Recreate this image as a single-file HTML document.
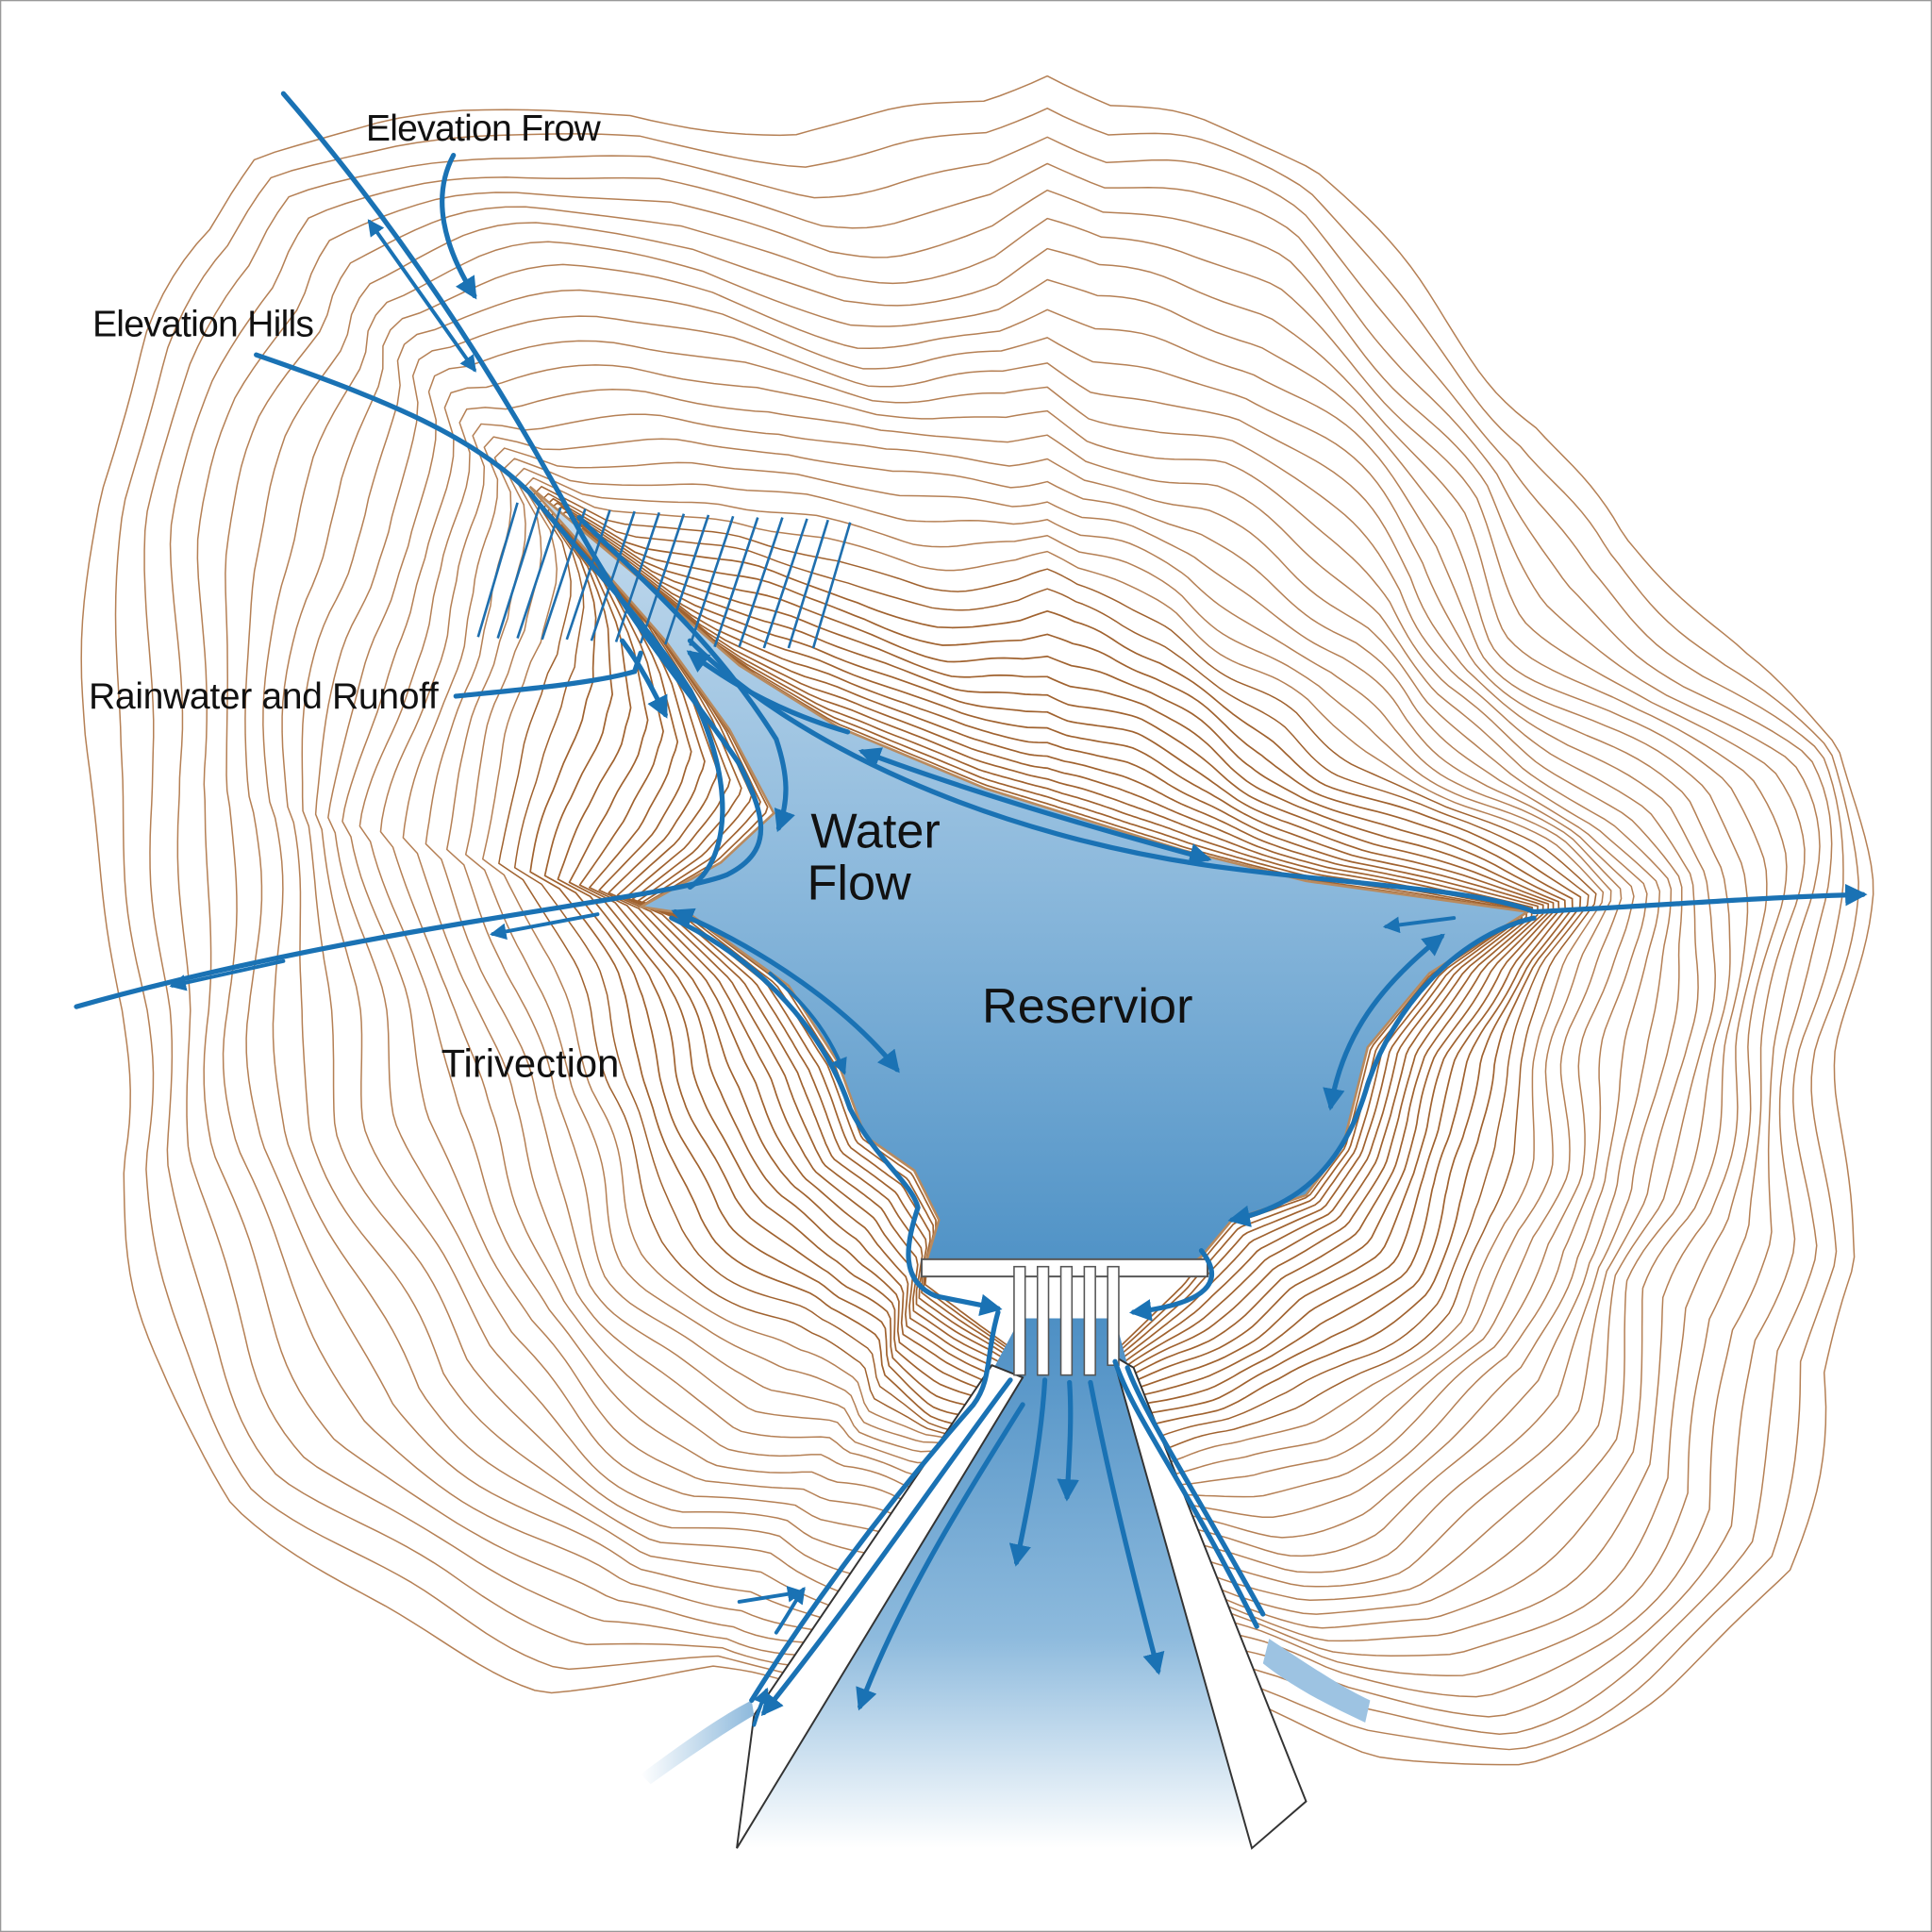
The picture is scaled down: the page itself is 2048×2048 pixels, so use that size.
<!DOCTYPE html>
<html><head><meta charset="utf-8">
<style>
html,body{margin:0;padding:0;background:#fff;}
svg{display:block;}
text{font-family:"Liberation Sans",sans-serif;fill:#111;}
</style></head>
<body>
<svg id="s" xmlns="http://www.w3.org/2000/svg" width="2048" height="2048" viewBox="0 0 1568 1568">
<defs>
<linearGradient id="res" x1="0" y1="0" x2="0" y2="1">
<stop offset="0" stop-color="#c4dbee"/><stop offset="0.5" stop-color="#8cb9dc"/><stop offset="1" stop-color="#4f92c6"/>
</linearGradient>
<linearGradient id="sp" x1="0" y1="0" x2="0" y2="1">
<stop offset="0" stop-color="#4d8fc4"/><stop offset="0.6" stop-color="#8dbadd"/><stop offset="1" stop-color="#ffffff"/>
</linearGradient>
<linearGradient id="st" x1="0" y1="0" x2="1" y2="0">
<stop offset="0" stop-color="#ffffff"/><stop offset="1" stop-color="#8db9dc"/>
</linearGradient>
<marker id="ah" viewBox="0 0 10 10" refX="8" refY="5" markerWidth="4.5" markerHeight="4.5" orient="auto-start-reverse">
<path d="M0,0 L10,5 L0,10 z" fill="#1a72b4"/>
</marker>
</defs>
<rect x="0" y="0" width="1568" height="1568" fill="#fff" stroke="#999" stroke-width="2"/>
<g id="contours" fill="none"></g>

<path id="resv" d="M430,395 L520,470 L600,540 L680,590 L800,640 L960,690 L1060,715 L1240,740 L1160,790 L1110,850 L1090,930 L1060,970 L1000,990 L975,1020 L960,1030 L750,1030 L762,990 L742,950 L702,922 L680,862 L640,800 L560,742 L520,736 L585,700 L628,660 L592,592 L540,520 L470,440 Z" fill="url(#res)" stroke="#b98a5e" stroke-width="2"/>

<path d="M828,1070 L905,1070 L1020,1500 L600,1500 Z" fill="url(#sp)"/>
<path d="M805,1108 L830,1118 L598,1500 L612,1392 Z" fill="#fff" stroke="#333" stroke-width="1.5"/>
<path d="M903,1100 L920,1110 L1060,1462 L1016,1500 Z" fill="#fff" stroke="#333" stroke-width="1.5"/>
<path d="M520,1440 C560,1410 590,1390 610,1380 L612,1392 C590,1405 560,1425 528,1448 Z" fill="url(#st)"/>
<path d="M1030,1330 C1060,1350 1090,1370 1112,1380 L1108,1398 C1080,1385 1050,1370 1025,1350 Z" fill="#9dc3e2"/>
<rect x="748" y="1022" width="232" height="14" fill="#fff" stroke="#555" stroke-width="1.5"/>
<g fill="#fff" stroke="#555" stroke-width="1.2">
<rect x="823" y="1028" width="9" height="88"/><rect x="842" y="1028" width="9" height="88"/>
<rect x="861" y="1028" width="9" height="88"/><rect x="880" y="1028" width="9" height="88"/>
<rect x="899" y="1028" width="9" height="80"/>
</g>

<g stroke="#1f6fae" stroke-width="2">
<line x1="388" y1="517" x2="420" y2="408"/><line x1="404" y1="518" x2="438" y2="410"/>
<line x1="420" y1="518" x2="455" y2="412"/><line x1="440" y1="519" x2="475" y2="413"/>
<line x1="460" y1="519" x2="495" y2="414"/><line x1="480" y1="520" x2="515" y2="415"/>
<line x1="500" y1="521" x2="535" y2="416"/><line x1="520" y1="522" x2="555" y2="417"/>
<line x1="540" y1="523" x2="575" y2="418"/><line x1="560" y1="524" x2="595" y2="419"/>
<line x1="580" y1="525" x2="615" y2="420"/><line x1="600" y1="525" x2="635" y2="420"/>
<line x1="620" y1="526" x2="655" y2="421"/><line x1="640" y1="526" x2="672" y2="422"/>
<line x1="660" y1="526" x2="690" y2="424"/>
</g>

<g fill="none" stroke="#1a72b4" stroke-width="4" stroke-linecap="round">
<path d="M230,76 C320,180 400,300 470,430 C520,520 560,560 600,620 C620,660 630,690 590,710 C540,730 300,750 62,817"/>
<path d="M208,288 C300,320 380,350 430,400 C480,460 520,500 560,560 C600,640 590,700 560,720"/>
<path d="M300,180 L385,300" marker-start="url(#ah)" marker-end="url(#ah)" stroke-width="3"/>
<path d="M368,126 C350,160 360,200 385,240" marker-end="url(#ah)"/>
<path d="M470,420 C520,470 580,520 630,600 C640,630 640,650 632,672" marker-end="url(#ah)"/>
<path d="M370,565 C420,560 480,555 515,545 L520,530"/>
<path d="M505,520 C520,540 530,560 540,580" marker-end="url(#ah)"/>
<path d="M560,530 C600,560 640,580 688,594" marker-start="url(#ah)"/>
<path d="M700,610 C780,640 880,670 980,697" marker-start="url(#ah)" marker-end="url(#ah)"/>
<path d="M560,520 C640,600 800,680 1000,705 C1100,718 1200,722 1245,740 C1350,735 1430,728 1512,726" marker-end="url(#ah)"/>
<path d="M485,742 L400,758" marker-end="url(#ah)" stroke-width="3"/>
<path d="M230,780 L140,800" marker-end="url(#ah)" stroke-width="3"/>
<path d="M548,740 C620,770 690,820 728,868" marker-start="url(#ah)" marker-end="url(#ah)"/>
<path d="M545,745 C620,780 670,840 690,900 C710,940 740,960 745,980 C735,1010 730,1040 760,1052 L810,1062" marker-end="url(#ah)"/>
<path d="M625,790 C660,820 675,845 685,870" marker-end="url(#ah)" stroke-width="3"/>
<path d="M1180,745 L1125,752" marker-end="url(#ah)" stroke-width="3"/>
<path d="M1170,760 C1120,800 1090,840 1080,898" marker-start="url(#ah)" marker-end="url(#ah)"/>
<path d="M1245,745 C1180,760 1130,820 1110,880 C1090,950 1050,980 1000,990" marker-end="url(#ah)"/>
<path d="M975,1015 C995,1040 980,1058 920,1065" marker-end="url(#ah)"/>
<path d="M810,1065 C800,1100 805,1120 790,1140 C720,1220 660,1300 610,1380"/>
<path d="M820,1120 C760,1200 700,1290 620,1390" marker-end="url(#ah)"/>
<path d="M905,1105 C920,1150 960,1200 1020,1320"/>
<path d="M915,1110 C930,1150 970,1210 1025,1310"/>
<path d="M600,1300 L650,1292" marker-end="url(#ah)" stroke-width="3"/>
<path d="M630,1325 C640,1310 645,1300 652,1290" marker-end="url(#ah)" stroke-width="3"/>
<path d="M612,1400 C615,1390 618,1382 622,1372" marker-end="url(#ah)" stroke-width="3"/>
<path d="M848,1120 C845,1170 835,1220 825,1268" marker-end="url(#ah)"/>
<path d="M868,1122 C870,1150 868,1180 866,1215" marker-end="url(#ah)"/>
<path d="M830,1140 C780,1220 730,1300 698,1385" marker-end="url(#ah)"/>
<path d="M885,1122 C900,1200 920,1280 940,1356" marker-end="url(#ah)"/>
</g>

<text x="297" y="114" font-size="30" letter-spacing="-0.6">Elevation Frow</text>
<text x="75" y="273" font-size="30" letter-spacing="-0.6">Elevation Hills</text>
<text x="72" y="575" font-size="30" letter-spacing="-0.3">Rainwater and Runoff</text>
<text x="658" y="688" font-size="40">Water</text>
<text x="655" y="730" font-size="40">Flow</text>
<text x="797" y="830" font-size="40">Reservior</text>
<text x="358" y="874" font-size="32" letter-spacing="0">Tirivection</text>
</svg>
<script>
(function(){
var NS="http://www.w3.org/2000/svg";
var cx=850,cy=820;
var inner=[[430,395],[520,470],[600,540],[680,590],[800,640],[960,690],[1060,715],[1240,740],[1160,790],[1110,850],[1090,930],[1060,970],[1000,990],[975,1020],[960,1040],[900,1100],[830,1100],[750,1040],[762,990],[742,950],[702,922],[680,862],[640,800],[560,742],[520,736],[585,700],[628,660],[592,592],[540,520],[470,440]];
var outer=[[190,110],[300,80],[500,70],[650,130],[800,90],[850,35],[900,100],[1070,130],[1180,250],[1260,330],[1300,450],[1400,540],[1510,600],[1520,720],[1500,850],[1520,1030],[1450,1100],[1460,1280],[1350,1380],[1250,1450],[1120,1440],[1050,1400],[900,1330],[760,1340],[680,1400],[580,1350],[430,1390],[300,1300],[190,1220],[150,1100],[80,950],[90,820],[70,600],[80,400],[130,280],[190,200]];
function rayDist(poly,a){
 var dx=Math.cos(a),dy=Math.sin(a),best=0;
 for(var i=0;i<poly.length;i++){
  var p=poly[i],q=poly[(i+1)%poly.length];
  var ex=q[0]-p[0],ey=q[1]-p[1];
  var den=dx*ey-dy*ex; if(Math.abs(den)<1e-9)continue;
  var wx=p[0]-cx,wy=p[1]-cy;
  var t=(wx*ey-wy*ex)/den, u=(wx*dy-wy*dx)/den;
  if(t>0&&u>=0&&u<=1&&t>best)best=t;
 }
 return best;
}
function smooth(arr,w){
 var n=arr.length,out=[];
 for(var i=0;i<n;i++){var s=0,c=0;for(var k=-w;k<=w;k++){s+=arr[(i+k+n)%n];c++;}out.push(s/c);}
 return out;
}
var M=360,rin=[],rout=[];
for(var j=0;j<M;j++){var a=j/M*2*Math.PI;rin.push(rayDist(inner,a));rout.push(rayDist(outer,a));}
var rinS=smooth(rin,12),routS=smooth(rout,10);
var g=document.getElementById("contours");
var N=36;
for(var k=1;k<=N;k++){
 var t=k/N,f=Math.pow(t,1.45);
 var d="";
 for(var j=0;j<=M;j++){
  var jj=j%M,a=jj/M*2*Math.PI;
  var ri=rin[jj]*(1-t)+rinS[jj]*t;
  var ro=rout[jj]*0.4+routS[jj]*0.6;
  var base=ri+(ro-ri)*f;
  var w=(3+22*t)*(0.55*Math.sin(a*6+k*0.3)+0.3*Math.sin(a*11-k*0.45)+0.15*Math.sin(a*19+k*0.8));
  var r=base+w*Math.min(1,t*2.5);
  var x=cx+r*Math.cos(a),y=cy+r*Math.sin(a);
  d+=(j?"L":"M")+x.toFixed(1)+","+y.toFixed(1);
 }
 var p=document.createElementNS(NS,"path");
 p.setAttribute("d",d);
 p.setAttribute("stroke",t<0.45?"#a0622f":"#b58055");
 p.setAttribute("stroke-width",t<0.4?"1.3":"1.15");
 p.setAttribute("stroke-linejoin","round");
 g.appendChild(p);
}
})();
</script>
</body></html>
